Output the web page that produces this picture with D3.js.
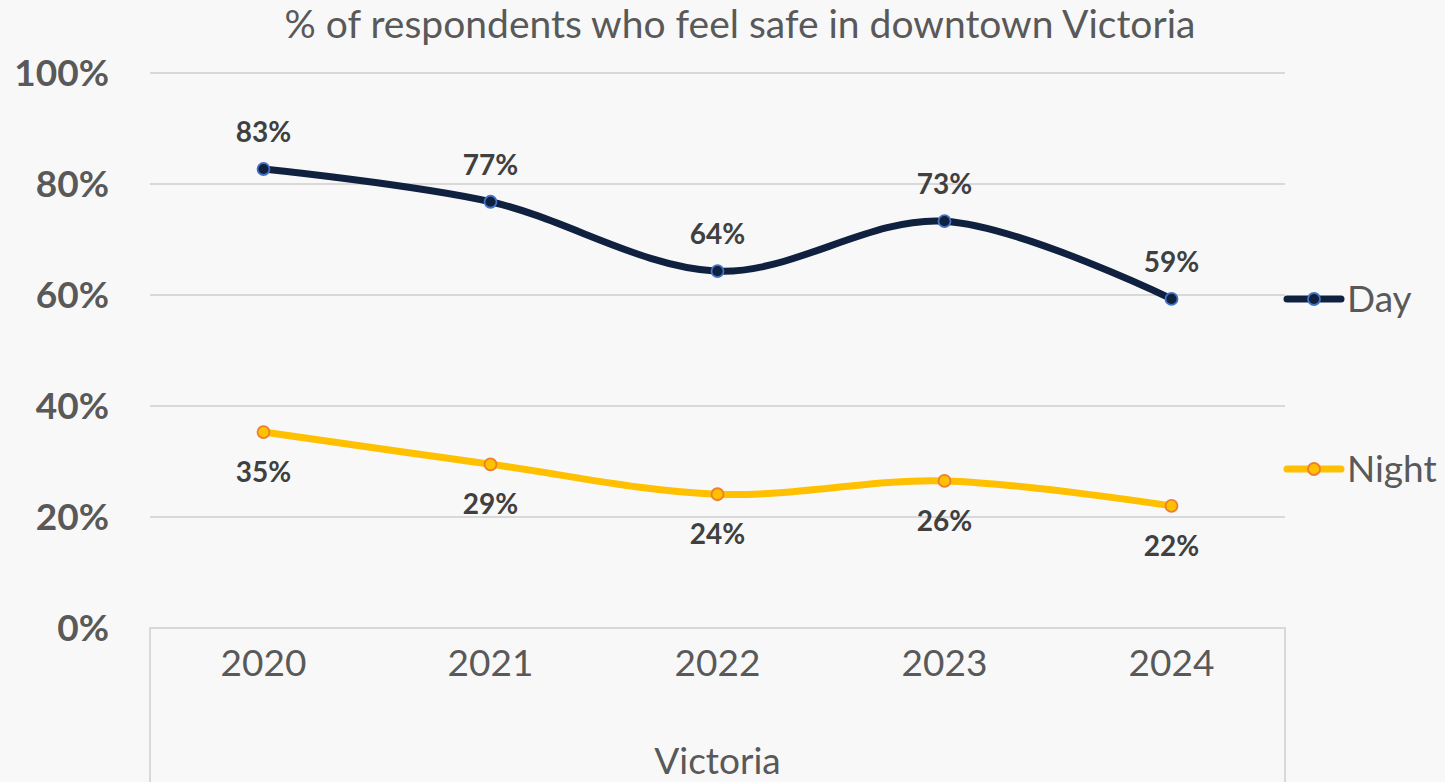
<!DOCTYPE html>
<html>
<head>
<meta charset="utf-8">
<script src="https://cdn.jsdelivr.net/npm/d3@7"></script>
<style>
  body { margin: 0; background: #f8f8f8; }
  svg { display: block; font-family: Lato, "Open Sans", sans-serif; }
</style>
</head>
<body>
<div class="chart"></div>
<script>
const years = ['2020', '2021', '2022', '2023', '2024'];
const dayValues = [82.7, 76.8, 64.3, 73.3, 59.3];
const nightValues = [35.3, 29.5, 24.1, 26.5, 22.0];
const dayLabels = ['83%', '77%', '64%', '73%', '59%'];
const nightLabels = ['35%', '29%', '24%', '26%', '22%'];
const yTicks = [0, 20, 40, 60, 80, 100];

const W = 1445, H = 782;
const margin = {top: 73, left: 150, right: 160, bottom: 154};
const width = W - margin.left - margin.right;
const height = H - margin.top - margin.bottom;

const svg = d3.select('.chart')
    .append('svg')
    .attr('width', W)
    .attr('height', H);

svg.append('rect').attr('width', W).attr('height', H).attr('fill', '#f8f8f8');

const g = svg.append('g')
    .attr('transform', 'translate(' + margin.left + ',' + margin.top + ')');

const xScale = d3.scaleBand().domain(years).range([0, width]);
const yScale = d3.scaleLinear().domain([0, 100]).range([height, 0]);
const xc = d => xScale(d) + xScale.bandwidth() / 2;

// title
svg.append('text')
    .attr('x', 740)
    .attr('y', 38)
    .attr('text-anchor', 'middle')
    .attr('font-size', 39)
    .attr('fill', '#595959')
    .text('% of respondents who feel safe in downtown Victoria');

// gridlines
g.selectAll('.grid')
    .data(yTicks)
    .enter()
    .append('line')
    .attr('x1', 0)
    .attr('x2', width)
    .attr('y1', d => yScale(d))
    .attr('y2', d => yScale(d))
    .attr('stroke', '#d9d9d9')
    .attr('stroke-width', 2);

// y tick labels
g.selectAll('.ylab')
    .data(yTicks)
    .enter()
    .append('text')
    .attr('x', -41)
    .attr('y', d => yScale(d) + 13)
    .attr('text-anchor', 'end')
    .attr('font-size', 37)
    .attr('font-weight', 'bold')
    .attr('fill', '#595959')
    .text(d => d + '%');

// category box below axis
g.append('path')
    .attr('d', 'M0,' + (H - margin.top) + 'V' + height + 'H' + width + 'V' + (H - margin.top))
    .attr('fill', 'none')
    .attr('stroke', '#d9d9d9')
    .attr('stroke-width', 2);

const xAxis = d3.axisBottom(xScale).tickSize(0).tickPadding(22);
g.append('g')
    .attr('transform', 'translate(0,' + height + ')')
    .call(xAxis)
    .call(a => a.select('.domain').remove())
    .selectAll('text')
    .attr('font-size', 37)
    .attr('font-family', 'Lato, sans-serif')
    .attr('fill', '#595959');

svg.append('text')
    .attr('x', margin.left + width / 2)
    .attr('y', 774)
    .attr('text-anchor', 'middle')
    .attr('font-size', 37)
    .attr('fill', '#595959')
    .text('Victoria');

const series = [
    {name: 'Day', values: dayValues, labels: dayLabels, line: '#10213f', fill: '#10213f', stroke: '#4472c4', dy: -27, legendY: 299},
    {name: 'Night', values: nightValues, labels: nightLabels, line: '#ffc000', fill: '#ffc000', stroke: '#ed7d31', dy: 50, legendY: 469}
];

const line = d3.line()
    .x((d, i) => xc(years[i]))
    .y(d => yScale(d))
    .curve(d3.curveCatmullRom.alpha(0));

series.forEach(s => {
    g.append('path')
        .datum(s.values)
        .attr('d', line)
        .attr('fill', 'none')
        .attr('stroke', s.line)
        .attr('stroke-width', 7)
        .attr('stroke-linecap', 'round');

    g.selectAll('.pt-' + s.name)
        .data(s.values)
        .enter()
        .append('circle')
        .attr('cx', (d, i) => xc(years[i]))
        .attr('cy', d => yScale(d))
        .attr('r', 6)
        .attr('fill', s.fill)
        .attr('stroke', s.stroke)
        .attr('stroke-width', 1.8);

    g.selectAll('.lab-' + s.name)
        .data(s.values)
        .enter()
        .append('text')
        .attr('x', (d, i) => xc(years[i]))
        .attr('y', d => yScale(d) + s.dy)
        .attr('text-anchor', 'middle')
        .attr('font-size', 28)
        .attr('font-weight', 'bold')
        .attr('fill', '#404040')
        .text((d, i) => s.labels[i]);

    // legend
    const lg = svg.append('g').attr('transform', 'translate(1287,' + s.legendY + ')');
    lg.append('line')
        .attr('x1', 0).attr('x2', 54)
        .attr('stroke', s.line)
        .attr('stroke-width', 7)
        .attr('stroke-linecap', 'round');
    lg.append('circle')
        .attr('cx', 27)
        .attr('r', 6)
        .attr('fill', s.fill)
        .attr('stroke', s.stroke)
        .attr('stroke-width', 1.8);
    lg.append('text')
        .attr('x', 60)
        .attr('y', 13)
        .attr('font-size', 37)
        .attr('fill', '#595959')
        .text(s.name);
});
</script>
</body>
</html>
